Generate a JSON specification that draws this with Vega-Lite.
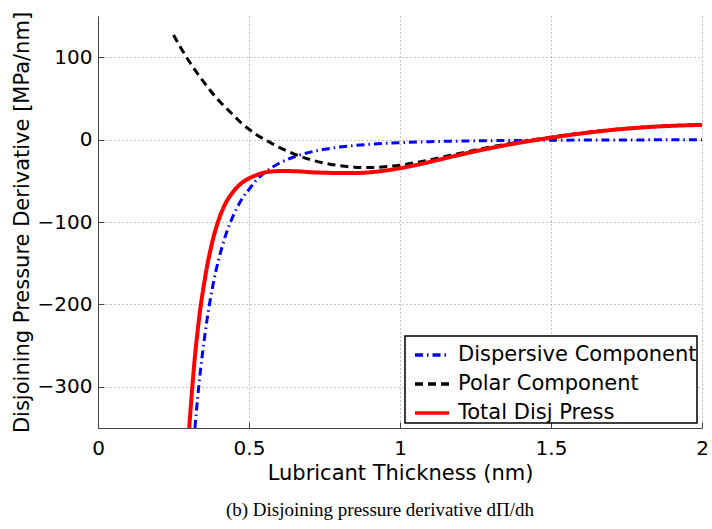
{
  "$schema": "https://vega.github.io/schema/vega-lite/v6.json",
  "width": 604,
  "height": 412,
  "autosize": {"type": "none"},
  "padding": {"left": 98, "top": 16, "right": 10, "bottom": 101},
  "background": "white",
  "view": {"stroke": null},
  "title": {"text": "(b)  Disjoining pressure derivative dΠ/dh", "orient": "bottom", "font": "Liberation Serif", "fontSize": 19, "fontWeight": "normal", "color": "black", "offset": 18, "dx": -20},
  "datasets": {
    "curves": [
      {"x": 0.321, "y": -350, "c": "Dispersive Component"},
      {"x": 0.33, "y": -313, "c": "Dispersive Component"},
      {"x": 0.34, "y": -278, "c": "Dispersive Component"},
      {"x": 0.35, "y": -248, "c": "Dispersive Component"},
      {"x": 0.36, "y": -221, "c": "Dispersive Component"},
      {"x": 0.37, "y": -198, "c": "Dispersive Component"},
      {"x": 0.38, "y": -178, "c": "Dispersive Component"},
      {"x": 0.39, "y": -160, "c": "Dispersive Component"},
      {"x": 0.40, "y": -145, "c": "Dispersive Component"},
      {"x": 0.42, "y": -119, "c": "Dispersive Component"},
      {"x": 0.44, "y": -99, "c": "Dispersive Component"},
      {"x": 0.46, "y": -83, "c": "Dispersive Component"},
      {"x": 0.48, "y": -70, "c": "Dispersive Component"},
      {"x": 0.50, "y": -60.5, "c": "Dispersive Component"},
      {"x": 0.525, "y": -49, "c": "Dispersive Component"},
      {"x": 0.55, "y": -40.6, "c": "Dispersive Component"},
      {"x": 0.575, "y": -34, "c": "Dispersive Component"},
      {"x": 0.60, "y": -28.7, "c": "Dispersive Component"},
      {"x": 0.65, "y": -20.8, "c": "Dispersive Component"},
      {"x": 0.70, "y": -15.5, "c": "Dispersive Component"},
      {"x": 0.75, "y": -11.7, "c": "Dispersive Component"},
      {"x": 0.80, "y": -9.1, "c": "Dispersive Component"},
      {"x": 0.85, "y": -7.1, "c": "Dispersive Component"},
      {"x": 0.90, "y": -5.7, "c": "Dispersive Component"},
      {"x": 0.95, "y": -4.6, "c": "Dispersive Component"},
      {"x": 1.0, "y": -3.7, "c": "Dispersive Component"},
      {"x": 1.1, "y": -2.5, "c": "Dispersive Component"},
      {"x": 1.2, "y": -1.8, "c": "Dispersive Component"},
      {"x": 1.3, "y": -1.3, "c": "Dispersive Component"},
      {"x": 1.4, "y": -1.0, "c": "Dispersive Component"},
      {"x": 1.5, "y": -0.7, "c": "Dispersive Component"},
      {"x": 1.6, "y": -0.6, "c": "Dispersive Component"},
      {"x": 1.7, "y": -0.45, "c": "Dispersive Component"},
      {"x": 1.8, "y": -0.35, "c": "Dispersive Component"},
      {"x": 1.9, "y": -0.29, "c": "Dispersive Component"},
      {"x": 2.0, "y": -0.23, "c": "Dispersive Component"},
      {"x": 0.25, "y": 127, "c": "Polar Component"},
      {"x": 0.275, "y": 111, "c": "Polar Component"},
      {"x": 0.30, "y": 96, "c": "Polar Component"},
      {"x": 0.325, "y": 82.5, "c": "Polar Component"},
      {"x": 0.35, "y": 70, "c": "Polar Component"},
      {"x": 0.375, "y": 58, "c": "Polar Component"},
      {"x": 0.40, "y": 47.5, "c": "Polar Component"},
      {"x": 0.425, "y": 38, "c": "Polar Component"},
      {"x": 0.45, "y": 29, "c": "Polar Component"},
      {"x": 0.475, "y": 20, "c": "Polar Component"},
      {"x": 0.50, "y": 12.5, "c": "Polar Component"},
      {"x": 0.525, "y": 6, "c": "Polar Component"},
      {"x": 0.55, "y": 0.5, "c": "Polar Component"},
      {"x": 0.575, "y": -4.5, "c": "Polar Component"},
      {"x": 0.60, "y": -9.5, "c": "Polar Component"},
      {"x": 0.65, "y": -17.5, "c": "Polar Component"},
      {"x": 0.70, "y": -24, "c": "Polar Component"},
      {"x": 0.75, "y": -28.5, "c": "Polar Component"},
      {"x": 0.80, "y": -31.5, "c": "Polar Component"},
      {"x": 0.85, "y": -33.5, "c": "Polar Component"},
      {"x": 0.90, "y": -34, "c": "Polar Component"},
      {"x": 0.95, "y": -33, "c": "Polar Component"},
      {"x": 1.00, "y": -31, "c": "Polar Component"},
      {"x": 1.05, "y": -28, "c": "Polar Component"},
      {"x": 1.10, "y": -24.5, "c": "Polar Component"},
      {"x": 1.15, "y": -20.5, "c": "Polar Component"},
      {"x": 1.20, "y": -16.5, "c": "Polar Component"},
      {"x": 1.30, "y": -9, "c": "Polar Component"},
      {"x": 1.40, "y": -2.5, "c": "Polar Component"},
      {"x": 1.50, "y": 3, "c": "Polar Component"},
      {"x": 1.60, "y": 8, "c": "Polar Component"},
      {"x": 1.70, "y": 12, "c": "Polar Component"},
      {"x": 1.80, "y": 15, "c": "Polar Component"},
      {"x": 1.90, "y": 17, "c": "Polar Component"},
      {"x": 2.00, "y": 18, "c": "Polar Component"},
      {"x": 0.302, "y": -350, "c": "Total Disj Press"},
      {"x": 0.31, "y": -311, "c": "Total Disj Press"},
      {"x": 0.32, "y": -267, "c": "Total Disj Press"},
      {"x": 0.33, "y": -232, "c": "Total Disj Press"},
      {"x": 0.34, "y": -202, "c": "Total Disj Press"},
      {"x": 0.35, "y": -178, "c": "Total Disj Press"},
      {"x": 0.36, "y": -156, "c": "Total Disj Press"},
      {"x": 0.37, "y": -138, "c": "Total Disj Press"},
      {"x": 0.38, "y": -122, "c": "Total Disj Press"},
      {"x": 0.39, "y": -108.5, "c": "Total Disj Press"},
      {"x": 0.40, "y": -97, "c": "Total Disj Press"},
      {"x": 0.42, "y": -79, "c": "Total Disj Press"},
      {"x": 0.44, "y": -67, "c": "Total Disj Press"},
      {"x": 0.46, "y": -58, "c": "Total Disj Press"},
      {"x": 0.48, "y": -51.5, "c": "Total Disj Press"},
      {"x": 0.50, "y": -47, "c": "Total Disj Press"},
      {"x": 0.525, "y": -43, "c": "Total Disj Press"},
      {"x": 0.55, "y": -40.1, "c": "Total Disj Press"},
      {"x": 0.575, "y": -38.7, "c": "Total Disj Press"},
      {"x": 0.60, "y": -38.2, "c": "Total Disj Press"},
      {"x": 0.65, "y": -38.3, "c": "Total Disj Press"},
      {"x": 0.70, "y": -39.5, "c": "Total Disj Press"},
      {"x": 0.75, "y": -40.2, "c": "Total Disj Press"},
      {"x": 0.80, "y": -40.6, "c": "Total Disj Press"},
      {"x": 0.85, "y": -40.6, "c": "Total Disj Press"},
      {"x": 0.90, "y": -39.7, "c": "Total Disj Press"},
      {"x": 0.95, "y": -37.6, "c": "Total Disj Press"},
      {"x": 1.00, "y": -34.7, "c": "Total Disj Press"},
      {"x": 1.05, "y": -31.1, "c": "Total Disj Press"},
      {"x": 1.10, "y": -27, "c": "Total Disj Press"},
      {"x": 1.15, "y": -22.6, "c": "Total Disj Press"},
      {"x": 1.20, "y": -18.3, "c": "Total Disj Press"},
      {"x": 1.30, "y": -10.3, "c": "Total Disj Press"},
      {"x": 1.40, "y": -3.5, "c": "Total Disj Press"},
      {"x": 1.50, "y": 2.3, "c": "Total Disj Press"},
      {"x": 1.60, "y": 7.4, "c": "Total Disj Press"},
      {"x": 1.70, "y": 11.6, "c": "Total Disj Press"},
      {"x": 1.80, "y": 14.7, "c": "Total Disj Press"},
      {"x": 1.90, "y": 16.7, "c": "Total Disj Press"},
      {"x": 2.00, "y": 17.8, "c": "Total Disj Press"}
    ]
  },
  "data": {"name": "curves"},
  "encoding": {
    "x": {
      "field": "x", "type": "quantitative",
      "scale": {"domain": [0, 2], "nice": false, "zero": false},
      "axis": {"values": [0, 0.5, 1, 1.5, 2], "format": "~g", "title": "Lubricant Thickness (nm)", "labelPadding": 16, "titlePadding": 4, "labelFlush": false}
    },
    "y": {
      "field": "y", "type": "quantitative",
      "scale": {"domain": [-350, 150], "nice": false, "zero": false},
      "axis": {"values": [-300, -200, -100, 0, 100], "format": "d", "title": "Disjoining Pressure Derivative [MPa/nm]", "labelPadding": 12, "titlePadding": 5, "labelFlush": false}
    },
    "color": {
      "field": "c", "type": "nominal", "title": null,
      "scale": {"domain": ["Dispersive Component", "Polar Component", "Total Disj Press"], "range": ["#0000ff", "#000000", "#ff0000"]},
      "legend": {"labelExpr": "datum.label + '\u2009'"}
    },
    "strokeDash": {
      "field": "c", "type": "nominal", "title": null,
      "scale": {"domain": ["Dispersive Component", "Polar Component", "Total Disj Press"], "range": [[8, 4, 1.5, 4], [8, 5], [1, 0]]},
      "legend": {"labelExpr": "datum.label + '\u2009'"}
    }
  },
  "layer": [
    {
      "transform": [{"filter": "datum.c !== 'Total Disj Press'"}],
      "mark": {"type": "line", "interpolate": "monotone", "strokeCap": "butt", "strokeWidth": 3}
    },
    {
      "transform": [{"filter": "datum.c === 'Total Disj Press'"}],
      "mark": {"type": "line", "interpolate": "monotone", "strokeCap": "butt", "strokeWidth": 4}
    }
  ],
  "config": {
    "font": "DejaVu Sans",
    "axis": {
      "domainColor": "#444", "domainWidth": 1, "tickColor": "#444", "tickSize": -6, "tickWidth": 1,
      "grid": true, "gridColor": "#888", "gridDash": [1, 3], "gridWidth": 1,
      "labelFont": "DejaVu Sans", "labelFontSize": 20, "labelColor": "black",
      "titleFont": "DejaVu Sans", "titleFontSize": 21, "titleFontWeight": "normal", "titleColor": "black"
    },
    "legend": {
      "orient": "bottom-right", "offset": 5, "strokeColor": "black", "strokeWidth": 1.5, "fillColor": "white",
      "padding": 0, "symbolOffset": 8, "cornerRadius": 0, "symbolType": "stroke", "symbolSize": 1156, "symbolStrokeWidth": 3.5,
      "labelFont": "DejaVu Sans", "labelFontSize": 21, "labelColor": "black", "labelOffset": 7, "rowPadding": -5.7, "labelLimit": 400
    }
  }
}
